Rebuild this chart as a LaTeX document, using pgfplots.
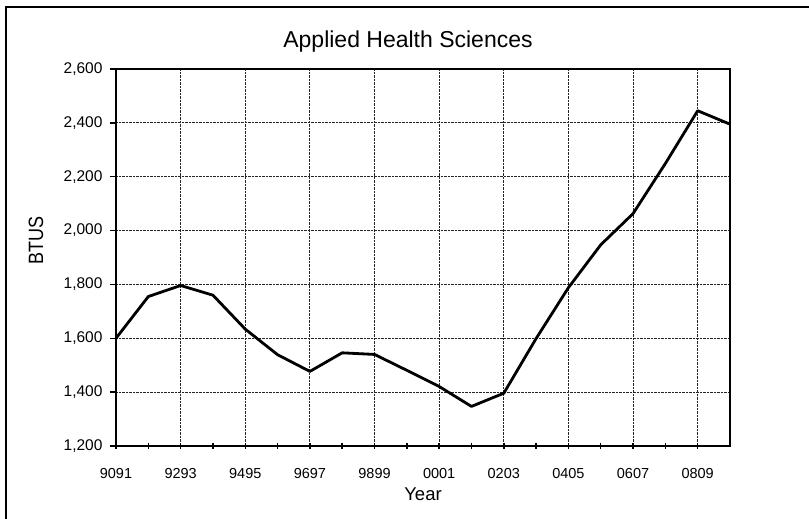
\documentclass[border=0pt]{standalone}
\usepackage{pgfplots}
\pgfplotsset{compat=1.18}
\usepackage{fontspec}
\setmainfont{Liberation Sans}
\begin{document}
\begin{tikzpicture}[x=1pt,y=1pt]
\path[use as bounding box] (0,0) rectangle (809,519);
\draw[line width=2pt] (6,-2) -- (6,512) -- (811,512);
\begin{axis}[
  at={(116pt,73pt)}, anchor=south west,
  scale only axis, width=614pt, height=377pt,
  xmin=0, xmax=19, ymin=1200, ymax=2600,
  xtick={0,2,...,18},
  xticklabels={9091,9293,9495,9697,9899,0001,0203,0405,0607,0809},
  minor xtick={1,3,...,17},
  ytick={1200,1400,...,2600},
  /pgf/number format/.cd, 1000 sep={,}, assume math mode=true,
  /pgfplots/.cd,
  xticklabel style={font=\fontsize{14.5}{16}\selectfont, yshift=-16pt},
  yticklabel style={font=\fontsize{15.5}{17}\selectfont, xshift=-4pt},
  x tick style={line width=1.5pt, black},
  y tick style={line width=1.5pt, black},
  xtick align=center, ytick align=outside,
  major tick length=6pt, minor tick length=6pt,
  xtick pos=bottom, ytick pos=left,
  grid=major,
  major grid style={densely dotted, line width=1pt, black!85},
  axis line style={line width=2.2pt},
  clip=false,
]
\addplot[black, line width=2.8pt, line join=round] coordinates {
(0,1600) (1,1755) (2,1796) (3,1760) (4,1634) (5,1539) (6,1477) (7,1546)
(8,1540) (9,1481) (10,1421) (11,1347) (12,1396) (13,1599) (14,1788)
(15,1947) (16,2063) (17,2249) (18,2445) (19,2395)
};
\end{axis}
\node[font=\fontsize{23}{26}\selectfont] at (408,477) {Applied Health Sciences};
\node[font=\fontsize{18}{21}\selectfont, rotate=90] at (36,278) {\scalebox{1}[1.15]{BTUS}};
\node[font=\fontsize{18.5}{21}\selectfont] at (423,25) {Year};
\end{tikzpicture}
\end{document}
